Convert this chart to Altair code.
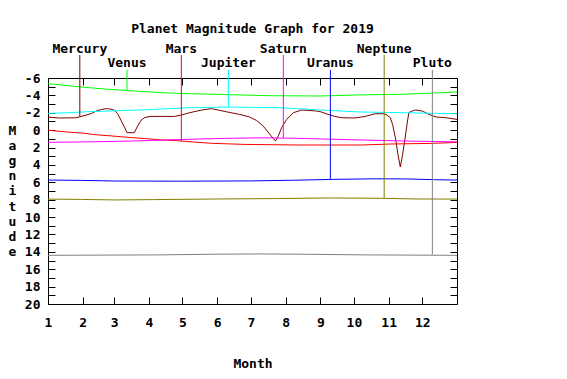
import altair as alt
import pandas as pd

# ---------------- data ----------------
planets = ["Mercury", "Venus", "Mars", "Jupiter", "Saturn", "Uranus", "Neptune", "Pluto"]
colors = ["#800000", "#00ff00", "#ff0000", "#00ffff", "#ff00ff", "#0000ff", "#808000", "#808080"]

mercury_day = [0, 10, 25, 28, 33, 39, 43, 48, 52, 56, 59.5, 62.5, 65.5, 68.5, 70.5, 77, 80, 83, 86, 91,
               113, 119, 126.5, 138.5, 146, 149, 159, 171, 180, 186, 192, 198, 203, 205.5, 208.5, 213,
               219, 226.5, 239.5, 244, 250, 256, 262, 274, 283, 292, 299.5, 302.5, 305.5, 307.5, 310,
               312.3, 314.4, 316.5, 318.3, 320.4, 322, 325, 328, 334, 340, 346.5, 355, 365]
mercury_mag = [-1.50, -1.40, -1.42, -1.52, -1.70, -1.93, -2.20, -2.39, -2.47, -2.43, -2.27, -1.81, -1.05,
               -0.28, 0.29, 0.29, -0.48, -1.12, -1.43, -1.58, -1.58, -1.74, -2.01, -2.35, -2.47, -2.40,
               -2.12, -1.81, -1.51, -1.12, -0.48, 0.49, 1.25, 0.67, -0.28, -1.24, -2.01, -2.32, -2.20,
               -2.09, -1.81, -1.58, -1.43, -1.40, -1.58, -1.89, -1.89, -1.74, -1.43, -0.66, 0.87, 2.79,
               4.24, 2.79, 1.25, -0.66, -2.01, -2.20, -2.32, -2.20, -1.81, -1.51, -1.43, -1.24]

venus_day = [0, 10, 24, 37, 51, 64, 77, 91, 109, 127, 162, 198, 243, 279, 315, 332, 350, 365]
venus_mag = [-5.34, -5.23, -5.03, -4.88, -4.73, -4.62, -4.50, -4.39, -4.27, -4.19, -4.08, -3.96,
             -3.93, -4.06, -4.12, -4.22, -4.30, -4.39]

mars_day = [0, 7, 17, 33, 42, 57, 73, 88, 102, 116, 129, 147, 176, 225, 279, 307, 343, 365]
mars_mag = [0.0, 0.1, 0.21, 0.37, 0.52, 0.67, 0.84, 0.98, 1.13, 1.22, 1.36, 1.52, 1.64, 1.71, 1.71,
            1.59, 1.52, 1.41]

jupiter_day = [0, 19, 35, 53, 71, 89, 107, 127, 162, 207, 229, 243, 261, 279, 314, 350, 365]
jupiter_mag = [-1.93, -2.01, -2.12, -2.20, -2.27, -2.35, -2.47, -2.58, -2.66, -2.58, -2.43, -2.32,
               -2.20, -2.09, -2.01, -1.93, -1.89]

saturn_day = [0, 40, 75, 105, 135, 165, 192, 220, 245, 280, 317, 365]
saturn_mag = [1.40, 1.34, 1.25, 1.13, 1.02, 0.93, 0.88, 0.93, 1.02, 1.13, 1.25, 1.35]

uranus_day = [0, 30, 60, 120, 180, 220, 255, 290, 320, 345, 365]
uranus_mag = [5.74, 5.78, 5.85, 5.87, 5.84, 5.76, 5.66, 5.60, 5.61, 5.70, 5.74]

neptune_day = [0, 30, 60, 95, 150, 205, 250, 298, 330, 365]
neptune_mag = [7.93, 7.97, 8.03, 7.99, 7.92, 7.87, 7.80, 7.84, 7.92, 7.93]

pluto_day = [0, 100, 150, 190, 230, 280, 365]
pluto_mag = [14.40, 14.35, 14.27, 14.24, 14.28, 14.35, 14.40]

month_start_days = [0, 31, 59, 90, 120, 151, 181, 212, 243, 273, 304, 334]
month_labels = ["1", "2", "3", "4", "5", "6", "7", "8", "9", "10", "11", "12"]
y_label_values = list(range(-6, 21, 2))
y_tick_values = list(range(-6, 21))

label_day = [28.4, 70.5, 119, 161, 210, 252, 300, 343]
label_mag = [-1.52, -4.52, 1.25, -2.66, 0.90, 5.60, 7.85, 14.3]
label_tier = [0, 1, 0, 1, 0, 1, 0, 1]

series = {
    "Mercury": (mercury_day, mercury_mag),
    "Venus": (venus_day, venus_mag),
    "Mars": (mars_day, mars_mag),
    "Jupiter": (jupiter_day, jupiter_mag),
    "Saturn": (saturn_day, saturn_mag),
    "Uranus": (uranus_day, uranus_mag),
    "Neptune": (neptune_day, neptune_mag),
    "Pluto": (pluto_day, pluto_mag),
}
rows = []
for p, (ds, ms) in series.items():
    for d, m in zip(ds, ms):
        rows.append({"planet": p, "day": d, "mag": m})
df = pd.DataFrame(rows)
lab = pd.DataFrame({"planet": planets, "day": label_day, "mag": label_mag, "tier": label_tier})

# ---------------- styling ----------------
W, H = 409, 226
FONT = "DejaVu Sans Mono"
FS = 13


def xs():
    return alt.Scale(domain=[0, 365], nice=False, zero=False)


def ys():
    return alt.Scale(domain=[-6, 20], reverse=True, nice=False, zero=False)


cs = alt.Scale(domain=planets, range=colors)

label_expr = f"{month_labels}[indexof({month_start_days}, datum.value)]"

x_main = alt.Axis(orient="bottom", values=month_start_days, labelExpr=label_expr, ticks=False,
                  grid=False, domain=True, domainColor="black", labelFlush=False, labelOverlap=False,
                  labelFont=FONT, labelFontSize=FS, labelFontWeight="bold", labelColor="black",
                  labelPadding=12, title="Month", titleFont=FONT, titleFontSize=FS,
                  titleFontWeight="bold", titleColor="black", titleX=W / 2, titleY=59,
                  titleBaseline="middle", titleAlign="center")
y_main = alt.Axis(orient="left", values=y_label_values, labelExpr="'' + datum.value", ticks=False,
                  grid=False, domain=True, domainColor="black", labelFont=FONT, labelFontSize=FS,
                  labelFontWeight="bold", labelColor="black", labelPadding=8, labelFlush=False,
                  labelOverlap=False, title=list("Magnitude"), titleAngle=0, titleX=-36, titleY=52,
                  titleAlign="center", titleBaseline="middle", titleLineHeight=15.2, titleFont=FONT,
                  titleFontSize=FS, titleFontWeight="bold", titleColor="black")
x_ticks_bottom = alt.Axis(orient="top", offset=-H, values=month_start_days, labels=False, domain=False,
                          grid=False, ticks=True, tickSize=7, tickWidth=1, tickColor="black", title=None)
x_ticks_top = alt.Axis(orient="bottom", offset=-H, values=month_start_days, labels=False, domain=True,
                       domainColor="black", grid=False, ticks=True, tickSize=7, tickWidth=1,
                       tickColor="black", title=None)
y_ticks_left = alt.Axis(orient="right", offset=-W, values=y_tick_values, labels=False, domain=False,
                        grid=False, ticks=True, tickSize=7, tickWidth=1, tickColor="black", title=None)
y_ticks_right = alt.Axis(orient="left", offset=-W, values=y_tick_values, labels=False, domain=True,
                         domainColor="black", grid=False, ticks=True, tickSize=7, tickWidth=1,
                         tickColor="black", title=None)

color = alt.Color("planet:N", scale=cs, legend=None)

lines = alt.Chart(df).mark_line(strokeWidth=1).encode(
    x=alt.X("day:Q", scale=xs(), axis=x_main),
    y=alt.Y("mag:Q", scale=ys(), axis=y_main),
    color=color,
)

rules0 = alt.Chart(lab).transform_filter("datum.tier == 0").mark_rule(strokeWidth=1).encode(
    x=alt.X("day:Q", scale=xs(), axis=x_ticks_bottom),
    y=alt.Y("mag:Q", scale=ys(), axis=y_ticks_left),
    y2=alt.value(-23),
    color=color,
)
rules1 = alt.Chart(lab).transform_filter("datum.tier == 1").mark_rule(strokeWidth=1).encode(
    x=alt.X("day:Q", scale=xs(), axis=x_ticks_top),
    y=alt.Y("mag:Q", scale=ys(), axis=y_ticks_right),
    y2=alt.value(-8),
    color=color,
)
text0 = alt.Chart(lab).transform_filter("datum.tier == 0").mark_text(
    font=FONT, fontSize=FS, fontWeight="bold", align="center", baseline="middle", color="black"
).encode(x=alt.X("day:Q", scale=xs(), axis=None), y=alt.value(-29.5), text="planet:N")
text1 = alt.Chart(lab).transform_filter("datum.tier == 1").mark_text(
    font=FONT, fontSize=FS, fontWeight="bold", align="center", baseline="middle", color="black"
).encode(x=alt.X("day:Q", scale=xs(), axis=None), y=alt.value(-15.5), text="planet:N")

chart = alt.layer(lines, rules0, rules1, text0, text1).resolve_scale(
    x="independent", y="independent", color="shared"
).resolve_axis(
    x="independent", y="independent"
).properties(
    width=W, height=H,
    title=alt.TitleParams("Planet Magnitude Graph for 2019", font=FONT, fontSize=FS,
                          fontWeight="bold", color="black", anchor="middle", offset=7),
    autosize=alt.AutoSizeParams(type="none"),
    padding={"left": 40, "top": 70, "right": 100, "bottom": 75},
    background="white",
).configure_view(stroke=None)

chart.save("out.html", embed_options={"renderer": "svg", "actions": False})
